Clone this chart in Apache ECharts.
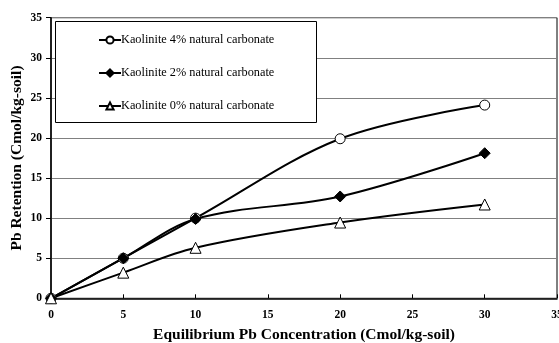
<!DOCTYPE html>
<html>
<head>
<meta charset="utf-8">
<script src="https://cdn.jsdelivr.net/npm/echarts@6/dist/echarts.min.js"></script>
<style>html,body{margin:0;padding:0;background:#fff}#chart{width:559px;height:343px}</style>
</head>
<body>
<div id="chart"></div>
<script>
// Pb retention isotherms for kaolinite with different natural carbonate contents
var concentration = [0, 5, 10, 20, 30];
var kaolinite4 = [0, 5.0, 10.0, 19.9, 24.1];
var kaolinite2 = [0, 5.0, 9.9, 12.7, 18.1];
var kaolinite0 = [0, 3.2, 6.3, 9.45, 11.7];
var seriesNames = [
  'Kaolinite 4% natural carbonate',
  'Kaolinite 2% natural carbonate',
  'Kaolinite 0% natural carbonate'
];
var xTitle = 'Equilibrium Pb Concentration (Cmol/kg-soil)';
var yTitle = 'Pb Retention (Cmol/kg-soil)';

function pairs(vals) {
  return concentration.map(function (x, i) { return [x, vals[i]]; });
}

var serif = '"Liberation Serif", "Times New Roman", serif';
var chart = echarts.init(document.getElementById('chart'), null, { renderer: 'canvas' });

function lineSeries(name, vals, symbol, size, fill) {
  return {
    name: name,
    type: 'line',
    data: pairs(vals),
    smooth: 0.35,
    symbol: symbol,
    symbolSize: size,
    showAllSymbol: true,
    lineStyle: { color: '#000', width: 2 },
    itemStyle: { color: fill, borderColor: '#000', borderWidth: 1 },
    emphasis: { disabled: true },
    z: 3
  };
}

chart.setOption({
  animation: false,
  backgroundColor: '#fff',
  grid: {
    left: 51, right: 2, top: 17.7, bottom: 44.7,
    outerBoundsMode: 'none', containLabel: false,
    show: true, borderColor: '#000', borderWidth: 1
  },
  graphic: [{
    type: 'rect',
    shape: { x: 55.5, y: 21.5, width: 261, height: 101 },
    style: { fill: '#fff', stroke: '#000', lineWidth: 1 },
    z: 10
  }],
  legend: {
    orient: 'vertical',
    left: 93,
    top: 29,
    itemWidth: 22,
    itemHeight: 9,
    itemGap: 21,
    z: 20,
    textStyle: { fontFamily: serif, fontSize: 12.3, color: '#000', padding: [0, 0, 0, -5] },
    data: seriesNames
  },
  xAxis: {
    type: 'value',
    min: 0, max: 35, interval: 5,
    name: xTitle,
    nameLocation: 'middle',
    nameMoveOverlap: false,
    nameGap: 29,
    nameTextStyle: { fontFamily: serif, fontSize: 15.5, fontWeight: 'bold', color: '#000' },
    axisLine: { show: true, lineStyle: { color: '#000', width: 1.5 } },
    axisTick: { show: true, inside: true, length: 4, lineStyle: { color: '#000' } },
    axisLabel: { fontFamily: serif, fontSize: 11.5, fontWeight: 'bold', color: '#000', margin: 11 },
    splitLine: { show: false }
  },
  yAxis: {
    type: 'value',
    min: 0, max: 35, interval: 5,
    name: yTitle,
    nameLocation: 'middle',
    nameMoveOverlap: false,
    nameGap: 26,
    nameTextStyle: { fontFamily: serif, fontSize: 15.5, fontWeight: 'bold', color: '#000' },
    axisLine: { show: true, lineStyle: { color: '#000', width: 1.5 } },
    axisTick: { show: true, length: 5, lineStyle: { color: '#000' } },
    axisLabel: { fontFamily: serif, fontSize: 11.5, fontWeight: 'bold', color: '#000', margin: 9 },
    splitLine: { show: true, lineStyle: { color: '#808080', width: 1 } }
  },
  series: [
    lineSeries(seriesNames[0], kaolinite4, 'circle', 10, '#fff'),
    lineSeries(seriesNames[1], kaolinite2, 'diamond', 11, '#000'),
    lineSeries(seriesNames[2], kaolinite0, 'triangle', 11, '#fff')
  ]
});
</script>
</body>
</html>
